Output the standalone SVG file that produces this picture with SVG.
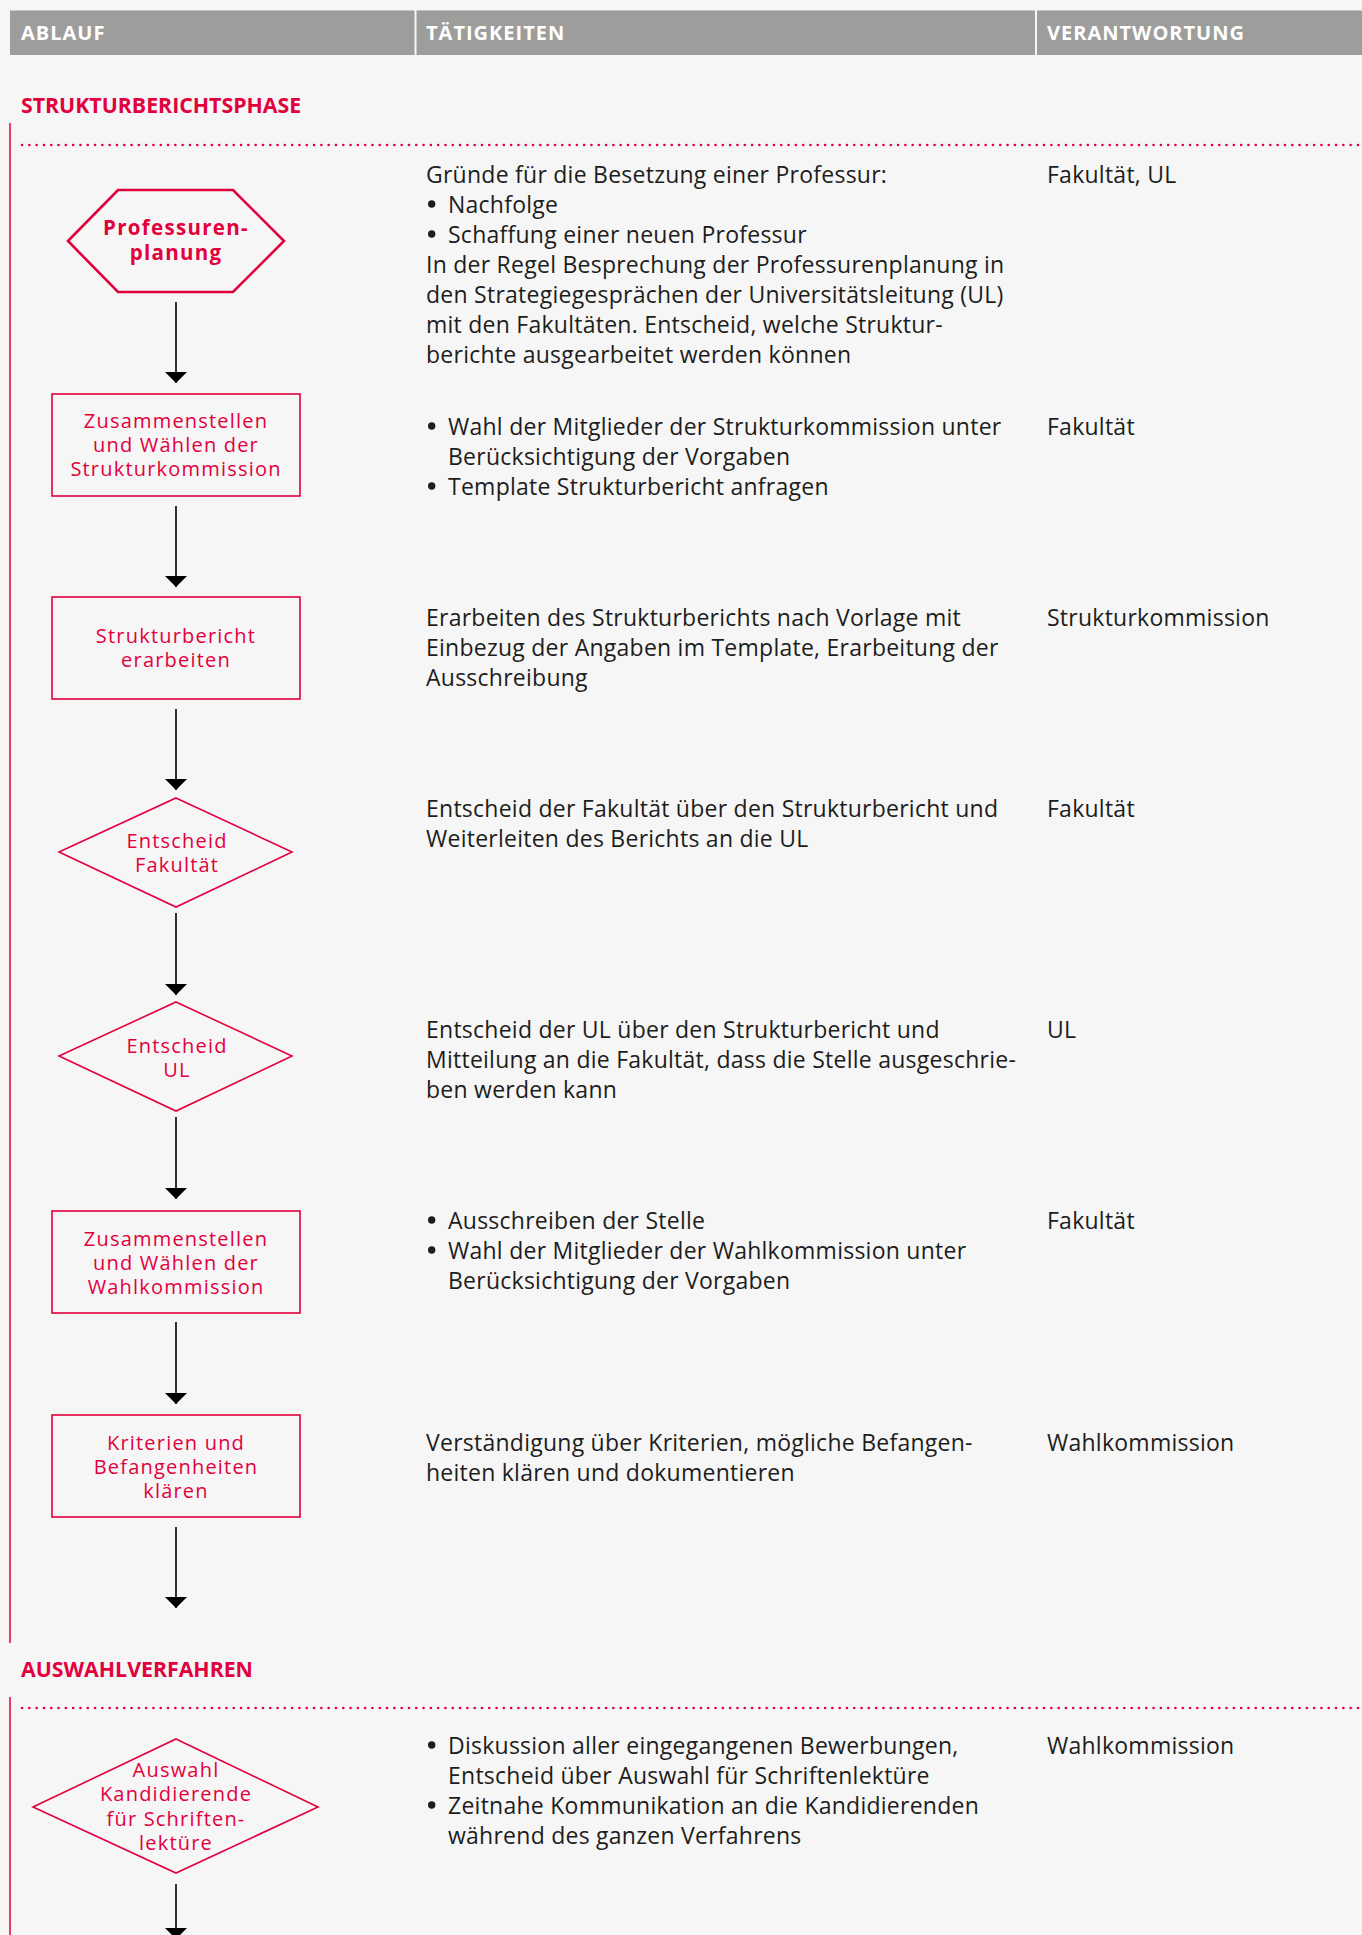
<svg xmlns="http://www.w3.org/2000/svg" width="1362" height="1935" viewBox="0 0 1362 1935">
<defs>
<style>
.bg{fill:#f6f6f6}
.hdr{fill:#9d9d9c}
.hdrt{font-family:"Open Sans","Liberation Sans",sans-serif;font-weight:bold;font-size:20px;fill:#ffffff;letter-spacing:1px}
.sec{font-family:"Open Sans","Liberation Sans",sans-serif;font-weight:bold;font-size:21.3px;fill:#e2003d}
.vline{stroke:#e83d64;stroke-width:2;fill:none}
.dots{stroke:#e2003d;stroke-width:2.5;stroke-dasharray:0.1 7.2;stroke-linecap:round;fill:none}
.box{fill:none;stroke:#e2003d;stroke-width:1.6}
.hex{fill:none;stroke:#e2003d;stroke-width:2.6}
.nt{font-family:"Open Sans","Liberation Sans",sans-serif;font-size:20px;fill:#e2003d;text-anchor:middle;letter-spacing:1.2px}
.ntb{font-family:"Open Sans","Liberation Sans",sans-serif;font-size:20.5px;font-weight:bold;fill:#e2003d;text-anchor:middle;letter-spacing:1.3px}
.tx{font-family:"Open Sans","Liberation Sans",sans-serif;font-size:23px;fill:#1d1d1b;letter-spacing:0.25px}
.bul{fill:#1d1d1b}
.conn{stroke:#000;stroke-width:1.6;fill:none;marker-end:url(#ah)}
</style>
<marker id="ah" markerUnits="userSpaceOnUse" markerWidth="11" markerHeight="22" viewBox="0 0 11 22" refX="11" refY="11" orient="auto">
<path d="M0,0 L11,11 L0,22 Z" fill="#000"/>
</marker>
</defs>
<rect class="bg" x="0" y="0" width="1362" height="1935"/>

<g id="header">
<rect class="hdr" x="10" y="10" width="1352" height="45"/>
<line x1="10" y1="10.5" x2="1362" y2="10.5" stroke="#c4c4c2" stroke-width="1"/>
<rect x="414.5" y="10" width="2" height="45" fill="#f6f6f6"/>
<rect x="1035" y="10" width="2" height="45" fill="#f6f6f6"/>
<text class="hdrt" x="21" y="40">ABLAUF</text>
<text class="hdrt" x="426" y="40">TÄTIGKEITEN</text>
<text class="hdrt" x="1047" y="40">VERANTWORTUNG</text>
</g>

<g id="section-strukturberichtsphase">
<text class="sec" x="21" y="113">STRUKTURBERICHTSPHASE</text>
<line class="vline" x1="10" y1="123" x2="10" y2="1643"/>
<line class="dots" x1="22" y1="145" x2="1362" y2="145"/>
</g>

<g id="section-auswahlverfahren">
<text class="sec" x="21" y="1677">AUSWAHLVERFAHREN</text>
<line class="vline" x1="10" y1="1697" x2="10" y2="1935"/>
<line class="dots" x1="22" y1="1708" x2="1362" y2="1708"/>
</g>

<g id="connectors">
<line class="conn" x1="176" y1="302" x2="176" y2="383"/>
<line class="conn" x1="176" y1="506" x2="176" y2="587"/>
<line class="conn" x1="176" y1="709" x2="176" y2="790"/>
<line class="conn" x1="176" y1="913" x2="176" y2="995"/>
<line class="conn" x1="176" y1="1117" x2="176" y2="1199"/>
<line class="conn" x1="176" y1="1322" x2="176" y2="1404"/>
<line class="conn" x1="176" y1="1527" x2="176" y2="1608"/>
<line class="conn" x1="176" y1="1884" x2="176" y2="1939"/>
</g>

<g id="node-professurenplanung">
<polygon class="hex" points="68,241 118,190 233,190 284,241 233,292 118,292"/>
<text class="ntb" x="176" y="235">Professuren-</text>
<text class="ntb" x="176" y="260">planung</text>
</g>

<g id="node-strukturkommission">
<rect class="box" x="52" y="394" width="248" height="102"/>
<text class="nt" x="176" y="428">Zusammenstellen</text>
<text class="nt" x="176" y="452">und Wählen der</text>
<text class="nt" x="176" y="476">Strukturkommission</text>
</g>

<g id="node-strukturbericht">
<rect class="box" x="52" y="597" width="248" height="102"/>
<text class="nt" x="176" y="643">Strukturbericht</text>
<text class="nt" x="176" y="667">erarbeiten</text>
</g>

<g id="node-entscheid-fakultaet">
<polygon class="box" points="176,798 292,852 176,907 59,852"/>
<text class="nt" x="177" y="848">Entscheid</text>
<text class="nt" x="177" y="872">Fakultät</text>
</g>

<g id="node-entscheid-ul">
<polygon class="box" points="176,1002 292,1056 176,1111 59,1056"/>
<text class="nt" x="177" y="1053">Entscheid</text>
<text class="nt" x="177" y="1077">UL</text>
</g>

<g id="node-wahlkommission">
<rect class="box" x="52" y="1211" width="248" height="102"/>
<text class="nt" x="176" y="1246">Zusammenstellen</text>
<text class="nt" x="176" y="1270">und Wählen der</text>
<text class="nt" x="176" y="1294">Wahlkommission</text>
</g>

<g id="node-kriterien">
<rect class="box" x="52" y="1415" width="248" height="102"/>
<text class="nt" x="176" y="1450">Kriterien und</text>
<text class="nt" x="176" y="1474">Befangenheiten</text>
<text class="nt" x="176" y="1498">klären</text>
</g>

<g id="node-auswahl">
<polygon class="box" points="176,1739 318,1807 176,1873 33,1807"/>
<text class="nt" x="176" y="1777">Auswahl</text>
<text class="nt" x="176" y="1801">Kandidierende</text>
<text class="nt" x="176" y="1826">für Schriften-</text>
<text class="nt" x="176" y="1850">lektüre</text>
</g>

<g id="activities">
<text class="tx" x="426" y="183">Gründe für die Besetzung einer Professur:</text>
<circle class="bul" cx="431.7" cy="204" r="3.7"/>
<text class="tx" x="448" y="213">Nachfolge</text>
<circle class="bul" cx="431.7" cy="234" r="3.7"/>
<text class="tx" x="448" y="243">Schaffung einer neuen Professur</text>
<text class="tx" x="426" y="273">In der Regel Besprechung der Professurenplanung in</text>
<text class="tx" x="426" y="303">den Strategiegesprächen der Universitätsleitung (UL)</text>
<text class="tx" x="426" y="333">mit den Fakultäten. Entscheid, welche Struktur-</text>
<text class="tx" x="426" y="363">berichte ausgearbeitet werden können</text>

<circle class="bul" cx="431.7" cy="426" r="3.7"/>
<text class="tx" x="448" y="435">Wahl der Mitglieder der Strukturkommission unter</text>
<text class="tx" x="448" y="465">Berücksichtigung der Vorgaben</text>
<circle class="bul" cx="431.7" cy="486" r="3.7"/>
<text class="tx" x="448" y="495">Template Strukturbericht anfragen</text>

<text class="tx" x="426" y="626">Erarbeiten des Strukturberichts nach Vorlage mit</text>
<text class="tx" x="426" y="656">Einbezug der Angaben im Template, Erarbeitung der</text>
<text class="tx" x="426" y="686">Ausschreibung</text>

<text class="tx" x="426" y="817">Entscheid der Fakultät über den Strukturbericht und</text>
<text class="tx" x="426" y="847">Weiterleiten des Berichts an die UL</text>

<text class="tx" x="426" y="1038">Entscheid der UL über den Strukturbericht und</text>
<text class="tx" x="426" y="1068">Mitteilung an die Fakultät, dass die Stelle ausgeschrie-</text>
<text class="tx" x="426" y="1098">ben werden kann</text>

<circle class="bul" cx="431.7" cy="1220" r="3.7"/>
<text class="tx" x="448" y="1229">Ausschreiben der Stelle</text>
<circle class="bul" cx="431.7" cy="1250" r="3.7"/>
<text class="tx" x="448" y="1259">Wahl der Mitglieder der Wahlkommission unter</text>
<text class="tx" x="448" y="1289">Berücksichtigung der Vorgaben</text>

<text class="tx" x="426" y="1451">Verständigung über Kriterien, mögliche Befangen-</text>
<text class="tx" x="426" y="1481">heiten klären und dokumentieren</text>

<circle class="bul" cx="431.7" cy="1745" r="3.7"/>
<text class="tx" x="448" y="1754">Diskussion aller eingegangenen Bewerbungen,</text>
<text class="tx" x="448" y="1784">Entscheid über Auswahl für Schriftenlektüre</text>
<circle class="bul" cx="431.7" cy="1805" r="3.7"/>
<text class="tx" x="448" y="1814">Zeitnahe Kommunikation an die Kandidierenden</text>
<text class="tx" x="448" y="1844">während des ganzen Verfahrens</text>
</g>

<g id="responsibilities">
<text class="tx" x="1047" y="183">Fakultät, UL</text>
<text class="tx" x="1047" y="435">Fakultät</text>
<text class="tx" x="1047" y="626">Strukturkommission</text>
<text class="tx" x="1047" y="817">Fakultät</text>
<text class="tx" x="1047" y="1038">UL</text>
<text class="tx" x="1047" y="1229">Fakultät</text>
<text class="tx" x="1047" y="1451">Wahlkommission</text>
<text class="tx" x="1047" y="1754">Wahlkommission</text>
</g>
</svg>
